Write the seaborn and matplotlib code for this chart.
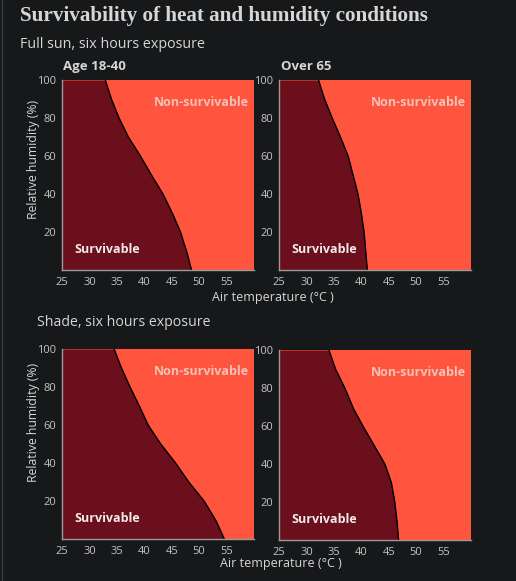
import matplotlib
matplotlib.use("Agg")
import matplotlib.pyplot as plt
import seaborn as sns
import pandas as pd
from matplotlib.lines import Line2D

# boundary curves: humidity (%) -> air temperature (C)
sun_young_rh = [100, 90, 80, 70, 60, 50, 40, 30, 20, 9, 0]
sun_young_t = [32.9, 34.0, 35.4, 37.1, 39.3, 41.3, 43.4, 45.1, 46.6, 47.8, 48.6]

sun_old_rh = [100, 90, 80, 70, 60, 50, 40, 30, 20, 10, 0]
sun_old_t = [32.2, 33.3, 34.7, 36.2, 37.6, 38.5, 39.4, 40.0, 40.5, 40.8, 41.1]

shade_young_rh = [100, 91, 80, 70, 60, 50, 40, 30, 20, 10, 0]
shade_young_t = [34.5, 35.7, 37.4, 39.1, 40.7, 43.0, 45.7, 48.1, 50.9, 53.0, 54.6]

shade_old_rh = [100, 90, 80, 69, 60, 49, 40, 30, 20, 10, 0]
shade_old_t = [34.1, 35.3, 37.0, 38.6, 40.3, 42.5, 44.3, 45.5, 46.1, 46.5, 46.8]

x_ticks = [25, 30, 35, 40, 45, 50, 55]
y_ticks = [20, 40, 60, 80, 100]

BG = "#17181a"
SAFE = "#6a0f1b"
DANGER = "#ff553e"
TXT = "#d6d6d6"
TICK = "#c4c4c4"
SANS = ["Open Sans", "DejaVu Sans"]

sns.set_theme(style="dark")
plt.rcParams["font.family"] = SANS

W, H = 516, 581
fig = plt.figure(figsize=(W / 100, H / 100), dpi=100, facecolor=BG)


def px_axes(left, top, right, bottom):
    return fig.add_axes([left / W, 1 - bottom / H, (right - left) / W, (bottom - top) / H])


def panel(ax, temps, rhs):
    df = pd.DataFrame({"temp": temps, "rh": rhs})
    ax.set_facecolor(DANGER)
    ax.fill_betweenx(df["rh"], 25, df["temp"], color=SAFE, lw=0)
    sns.lineplot(data=df, x="temp", y="rh", sort=False, orient="y",
                 color="black", lw=1.0, ax=ax)
    ax.set_xlim(25, 60)
    ax.set_ylim(0, 100)
    ax.set_xticks(x_ticks)
    ax.set_yticks(y_ticks)
    ax.grid(False)
    for s in ["top", "right"]:
        ax.spines[s].set_visible(False)
    for s in ["left", "bottom"]:
        ax.spines[s].set_visible(True)
        ax.spines[s].set_color("#9a9a9a")
        ax.spines[s].set_linewidth(1)
    ax.tick_params(axis="x", direction="in", length=3, color="#dddddd",
                   labelcolor=TICK, labelsize=8, pad=5)
    ax.tick_params(axis="y", direction="out", length=3, color="#9a9a9a",
                   labelcolor=TICK, labelsize=8, pad=1)
    ax.set_xlabel("")
    ax.set_ylabel("")
    ax.text(59, 88, "Non-survivable", ha="right", va="center",
            color="#f2c2b6", fontsize=9.0, fontweight="bold")
    ax.text(27.2, 11, "Survivable", ha="left", va="center",
            color="#f2e9e9", fontsize=9.0, fontweight="bold")


ax1 = px_axes(62, 80, 254, 270)
ax2 = px_axes(279, 80, 471, 270)
ax3 = px_axes(62, 349, 254, 539)
ax4 = px_axes(279, 350, 471, 540)

panel(ax1, sun_young_t, sun_young_rh)
panel(ax2, sun_old_t, sun_old_rh)
panel(ax3, shade_young_t, shade_young_rh)
panel(ax4, shade_old_t, shade_old_rh)


def ftext(x, y, s, **kw):
    fig.text(x / W, 1 - y / H, s, **kw)


ftext(20, 21, "Survivability of heat and humidity conditions",
      family=["Liberation Serif", "DejaVu Serif"], fontsize=15.2, fontweight="bold",
      color=TXT, va="baseline")
ftext(20, 48, "Full sun, six hours exposure", fontsize=10.3, color=TXT, va="baseline")
ftext(63, 70, "Age 18-40", fontsize=9.5, fontweight="bold", color=TXT, va="baseline")
ftext(281, 70, "Over 65", fontsize=9.5, fontweight="bold", color=TXT, va="baseline")
ftext(37, 326, "Shade, six hours exposure", fontsize=10.2, color=TXT, va="baseline")

ftext(273, 298, "Air temperature (°C )", fontsize=9, color=TXT, ha="center", va="center")
ftext(281, 564, "Air temperature (°C )", fontsize=9, color=TXT, ha="center", va="center")
ftext(34, 159, "Relative humidity (%)", fontsize=8.8, color=TXT, ha="center",
      va="center", rotation=90)
ftext(34, 422, "Relative humidity (%)", fontsize=8.8, color=TXT, ha="center",
      va="center", rotation=90)

fig.add_artist(Line2D([2 / W, 2 / W], [0, 1], color="#3a3b3d", lw=1))

fig.savefig("out.png", dpi=100, facecolor=BG)
